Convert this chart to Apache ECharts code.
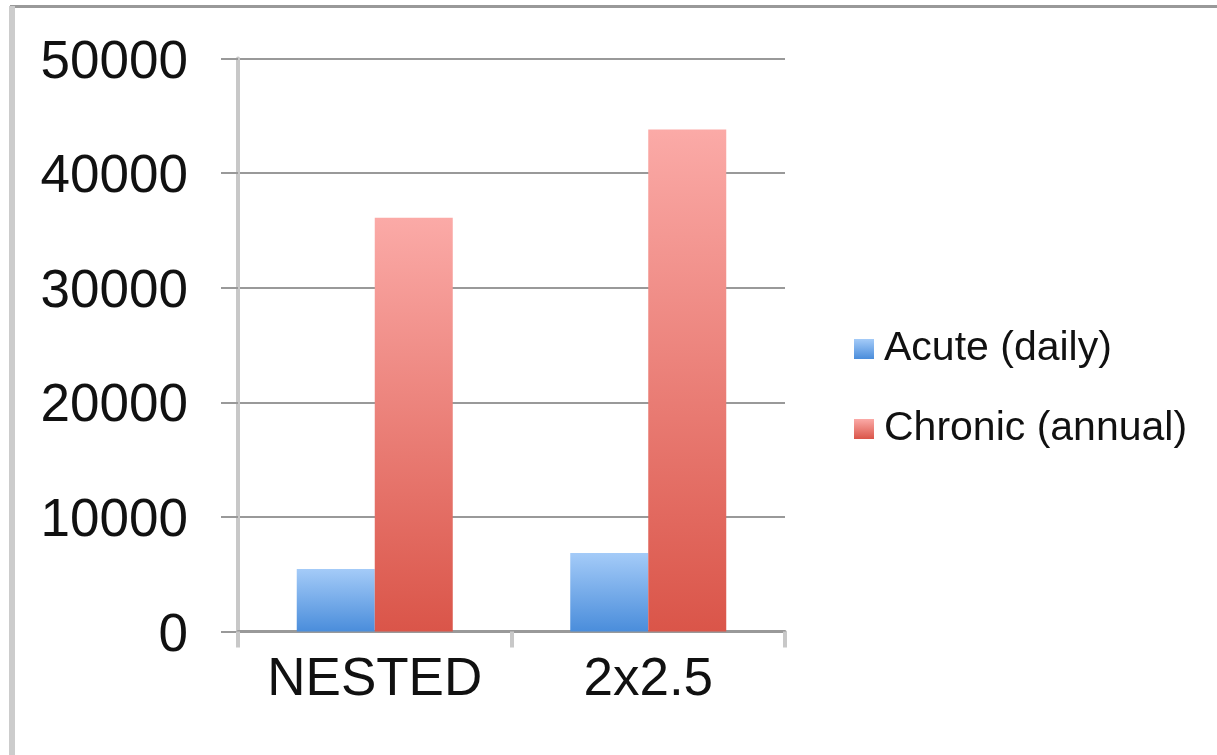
<!DOCTYPE html>
<html>
<head>
<meta charset="utf-8">
<script src="https://cdn.jsdelivr.net/npm/echarts@6/dist/echarts.min.js"></script>
<style>
  html, body { margin: 0; padding: 0; background: #fff; }
  #chart { width: 1217px; height: 755px; }
</style>
</head>
<body>
<div id="chart"></div>
<script>
// Categories and values
const categories = ['NESTED', '2x2.5'];
const acuteDaily = [5450, 6850];
const chronicAnnual = [36100, 43800];
const seriesNames = ['Acute (daily)', 'Chronic (annual)'];

const font = '"Liberation Sans", Arial, sans-serif';

function vGrad(top, bottom) {
  return new echarts.graphic.LinearGradient(0, 0, 0, 1, [
    { offset: 0, color: top },
    { offset: 1, color: bottom }
  ]);
}

const chart = echarts.init(document.getElementById('chart'), null, { renderer: 'canvas' });

chart.setOption({
  backgroundColor: '#ffffff',
  animation: false,
  grid: { left: 238, right: 432, top: 58.5, bottom: 123.5, containLabel: false },
  legend: {
    orient: 'vertical',
    left: 849,
    top: 310,
    itemWidth: 20,
    itemHeight: 20,
    itemGap: 12,
    icon: 'rect',
    textStyle: { fontFamily: font, fontSize: 41, color: '#111', padding: [20, 0, 0, 5], lineHeight: 48 },
    data: seriesNames
  },
  xAxis: {
    type: 'category',
    data: categories,
    axisLine: { lineStyle: { color: '#999', width: 3 } },
    axisTick: { show: true, alignWithLabel: false, length: 16, lineStyle: { color: '#c8c8c8', width: 4 } },
    axisLabel: { interval: 0, fontFamily: font, fontSize: 53, color: '#111', margin: 22 }
  },
  yAxis: {
    type: 'value',
    min: 0,
    max: 50000,
    interval: 10000,
    axisLine: { show: true, lineStyle: { color: '#c8c8c8', width: 4 } },
    axisTick: { show: true, length: 17, lineStyle: { color: '#999', width: 2 } },
    splitLine: { show: true, lineStyle: { color: '#999', width: 2 } },
    axisLabel: {
      fontFamily: font, fontSize: 53, color: '#111', margin: 50,
      formatter: v => '{v|' + v + '}',
      rich: {
        v: { fontFamily: font, fontSize: 53, color: '#111', padding: [9, 0, 0, 0] }
      }
    }
  },
  series: [
    {
      name: seriesNames[0],
      type: 'bar',
      data: acuteDaily,
      barWidth: 78,
      barGap: '0%',
      itemStyle: { color: vGrad('#a4cbf8', '#4a8ddb') }
    },
    {
      name: seriesNames[1],
      type: 'bar',
      data: chronicAnnual,
      barWidth: 78,
      barGap: '0%',
      itemStyle: { color: vGrad('#fbaaa7', '#da5549') }
    }
  ],
  graphic: [
    { type: 'rect', left: 10, top: 5, shape: { width: 1207, height: 3 }, style: { fill: '#999' }, z: 10 },
    { type: 'rect', left: 9, top: 6, shape: { width: 6, height: 749 }, style: { fill: '#cccccc' }, z: 10 }
  ]
});
</script>
</body>
</html>
